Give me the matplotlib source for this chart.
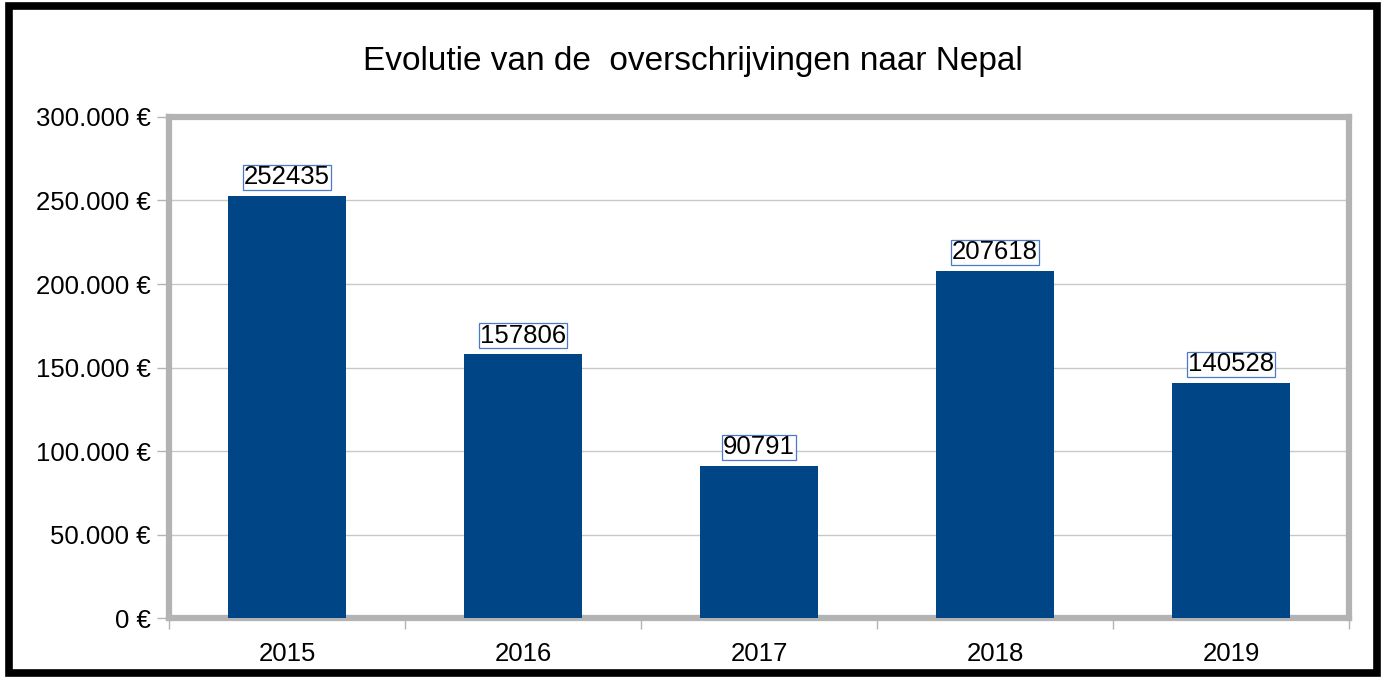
import matplotlib.pyplot as plt
from matplotlib.patches import Rectangle
from matplotlib.ticker import FuncFormatter, FixedLocator

plt.rcParams["font.family"] = ["Liberation Sans", "DejaVu Sans"]

YEARS = ["2015", "2016", "2017", "2018", "2019"]
AMOUNTS = [252435, 157806, 90791, 207618, 140528]

BAR_COLOR = "#004586"
FRAME_GRAY = "#b3b3b3"


def euro(v, _pos=None):
    return f"{int(v):,} €".replace(",", ".")


fig = plt.figure(figsize=(13.84, 6.79), dpi=100)
ax = fig.add_axes([0.1221, 0.0898, 0.8526, 0.7379])

xs = list(range(len(YEARS)))
ax.bar(xs, AMOUNTS, width=0.5, color=BAR_COLOR, zorder=3)

for x, v in zip(xs, AMOUNTS):
    ax.annotate(
        str(v), xy=(x, v), xytext=(0, 5), textcoords="offset points",
        ha="center", va="bottom", fontsize=18.5, zorder=4,
        bbox=dict(boxstyle="square,pad=0.03", facecolor="white",
                  edgecolor="#4a7bc4", linewidth=0.9),
    )

ax.set_xlim(-0.5, len(YEARS) - 0.5)
ax.set_ylim(0, 300000)
ax.set_yticks(range(0, 300001, 50000))
ax.yaxis.set_major_formatter(FuncFormatter(euro))
ax.set_xticks(xs)
ax.set_xticklabels(YEARS)
ax.xaxis.set_minor_locator(FixedLocator([i - 0.5 for i in range(len(YEARS) + 1)]))

ax.tick_params(axis="x", which="major", length=0, labelsize=18.5, pad=17)
ax.tick_params(axis="x", which="minor", length=8, color=FRAME_GRAY, width=1)
ax.tick_params(axis="y", length=9, color=FRAME_GRAY, width=1, labelsize=18.5, pad=4)

ax.grid(True, axis="y", color="#c8c8c8", linewidth=1.0, zorder=0)
ax.set_axisbelow(True)
for sp in ax.spines.values():
    sp.set_color(FRAME_GRAY)
    sp.set_linewidth(4.5)

fig.text(0.5007, 0.909, "Evolutie van de  overschrijvingen naar Nepal",
         ha="center", va="center", fontsize=24)

fig.patches.append(Rectangle((0.0062, 0.0085), 0.9891, 0.9833, transform=fig.transFigure,
                             fill=False, edgecolor="black", linewidth=5.5))

fig.savefig("out.png", dpi=100)
